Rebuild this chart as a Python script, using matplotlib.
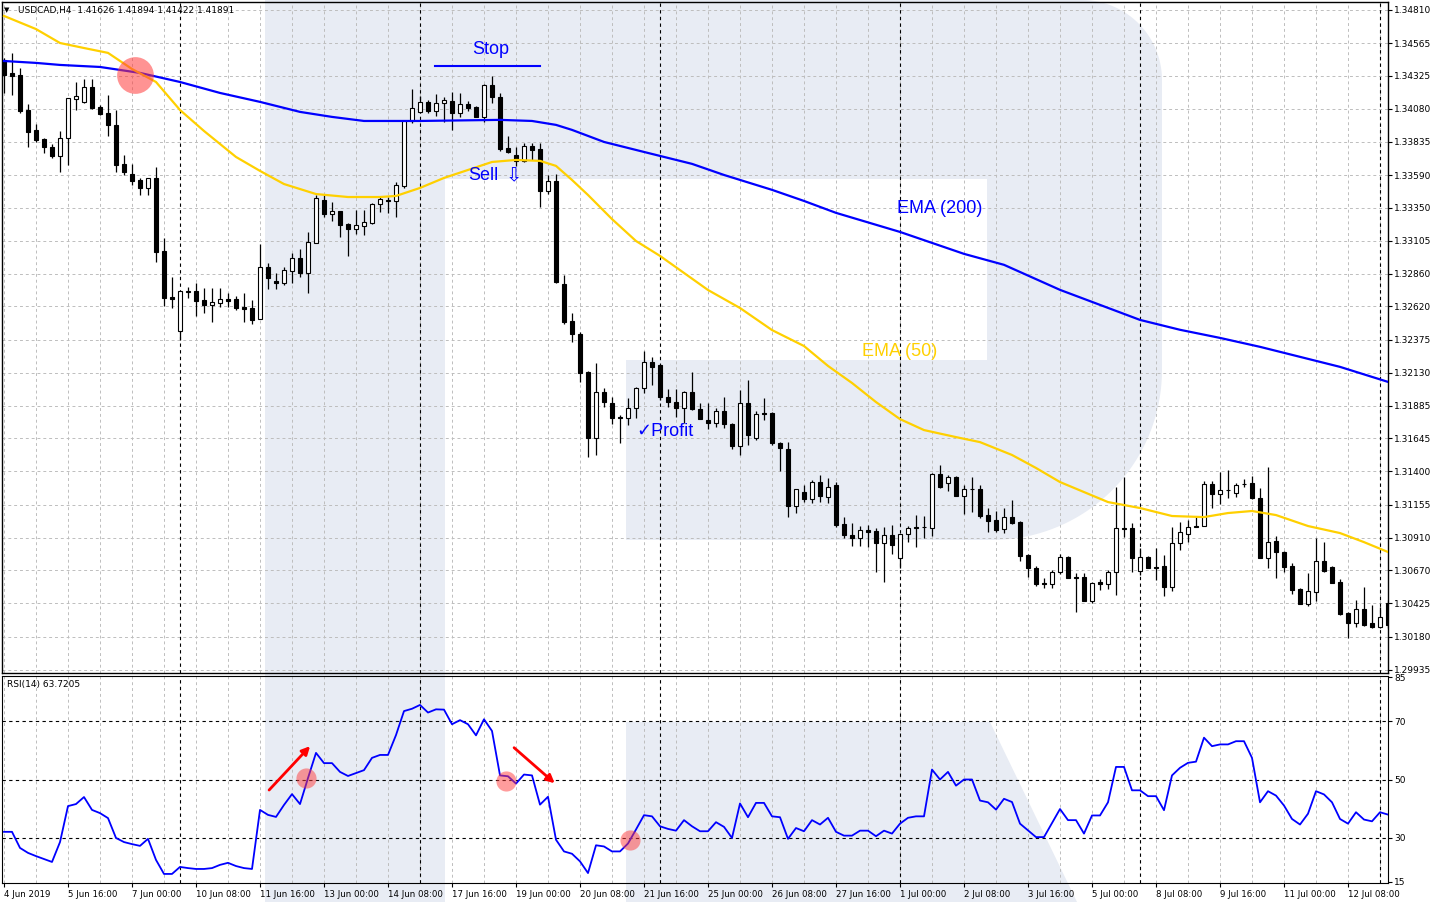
import numpy as np
import matplotlib.pyplot as plt
from matplotlib.patches import Polygon, Rectangle

# USDCAD H4 candles, bar 0 = 4 Jun 2019 08:00
opens = [1.34441, 1.34345, 1.34330, 1.34071, 1.33923, 1.33856, 1.33797, 1.33732, 1.33864, 1.34152,
         1.34130, 1.34241, 1.34093, 1.34049, 1.33960, 1.33672, 1.33598, 1.33554, 1.33495, 1.33569,
         1.33030, 1.32689, 1.32438, 1.32726, 1.32734, 1.32667, 1.32630, 1.32645, 1.32674, 1.32674,
         1.32615, 1.32608, 1.32526, 1.32911, 1.32808, 1.32793, 1.32882, 1.32978, 1.32867, 1.33088,
         1.33406, 1.33302, 1.33325, 1.33228, 1.33191, 1.33214, 1.33236, 1.33376, 1.33406, 1.33399,
         1.33510, 1.33990, 1.34056, 1.34130, 1.34064, 1.34123, 1.34138, 1.34049, 1.34115, 1.34093,
         1.34019, 1.34256, 1.34167, 1.33790, 1.33739, 1.33695, 1.33805, 1.33782, 1.33473, 1.33547,
         1.32785, 1.32512, 1.32415, 1.32135, 1.31647, 1.31987, 1.31906, 1.31802, 1.31795, 1.31869,
         1.32017, 1.32209, 1.32187, 1.31950, 1.31913, 1.31869, 1.31987, 1.31861, 1.31780, 1.31758,
         1.31847, 1.31750, 1.31588, 1.31906, 1.31647, 1.31832, 1.31832, 1.31610, 1.31565, 1.31145,
         1.31248, 1.31196, 1.31322, 1.31211, 1.31300, 1.31011, 1.30930, 1.30908, 1.30967, 1.30960,
         1.30871, 1.30930, 1.30761, 1.30937, 1.30989, 1.30989, 1.30982, 1.31381, 1.31315, 1.31359,
         1.31219, 1.31270, 1.31270, 1.31078, 1.31041, 1.30974, 1.31063, 1.31026, 1.30783, 1.30687,
         1.30576, 1.30568, 1.30657, 1.30768, 1.30620, 1.30620, 1.30443, 1.30583, 1.30568, 1.30657,
         1.30982, 1.30982, 1.30665, 1.30768, 1.30694, 1.30702, 1.30546, 1.30871, 1.30937, 1.30997,
         1.30997, 1.31307, 1.31233, 1.31263, 1.31241, 1.31307, 1.31315, 1.31204, 1.30761, 1.30886,
         1.30805, 1.30702, 1.30531, 1.30420, 1.30509, 1.30739, 1.30694, 1.30583, 1.30354, 1.30280,
         1.30383, 1.30280, 1.30250, 1.30428]
highs = [1.34456, 1.34493, 1.34382, 1.34115, 1.33967, 1.33864, 1.33819, 1.33916, 1.34160, 1.34278,
         1.34300, 1.34300, 1.34108, 1.34182, 1.34071, 1.33739, 1.33672, 1.33569, 1.33569, 1.33650,
         1.33125, 1.32837, 1.32734, 1.32763, 1.32793, 1.32756, 1.32756, 1.32756, 1.32719, 1.32697,
         1.32719, 1.32667, 1.33080, 1.32941, 1.32867, 1.32911, 1.33015, 1.33043, 1.33169, 1.33443,
         1.33443, 1.33391, 1.33325, 1.33236, 1.33332, 1.33332, 1.33384, 1.33428, 1.33428, 1.33539,
         1.33990, 1.34226, 1.34175, 1.34145, 1.34189, 1.34167, 1.34204, 1.34197, 1.34138, 1.34100,
         1.34263, 1.34323, 1.34197, 1.33879, 1.33797, 1.33827, 1.33827, 1.33827, 1.33591, 1.33598,
         1.32852, 1.32571, 1.32430, 1.32143, 1.32202, 1.32017, 1.31950, 1.31817, 1.31943, 1.32024,
         1.32291, 1.32246, 1.32194, 1.32009, 1.32009, 1.31995, 1.32135, 1.31906, 1.31906, 1.31869,
         1.31950, 1.31758, 1.32002, 1.32076, 1.31847, 1.31943, 1.31839, 1.31617, 1.31617, 1.31270,
         1.31300, 1.31337, 1.31374, 1.31352, 1.31322, 1.31063, 1.31019, 1.30997, 1.31004, 1.30982,
         1.30989, 1.31004, 1.30937, 1.30997, 1.31078, 1.31071, 1.31389, 1.31448, 1.31374, 1.31367,
         1.31300, 1.31359, 1.31300, 1.31130, 1.31108, 1.31130, 1.31189, 1.31034, 1.30790, 1.30702,
         1.30613, 1.30672, 1.30790, 1.30776, 1.30650, 1.30650, 1.30583, 1.30605, 1.30672, 1.31285,
         1.31359, 1.31019, 1.30834, 1.30776, 1.30834, 1.30783, 1.30989, 1.31026, 1.31041, 1.31063,
         1.31330, 1.31330, 1.31396, 1.31411, 1.31315, 1.31344, 1.31367, 1.31278, 1.31433, 1.30923,
         1.30813, 1.30724, 1.30539, 1.30650, 1.30908, 1.30878, 1.30702, 1.30605, 1.30361, 1.30450,
         1.30546, 1.30413, 1.30398, 1.30450]
lows = [1.34197, 1.34182, 1.34049, 1.33797, 1.33834, 1.33754, 1.33717, 1.33613, 1.33665, 1.34071,
        1.34123, 1.34078, 1.34034, 1.33879, 1.33613, 1.33591, 1.33517, 1.33443, 1.33443, 1.32948,
        1.32623, 1.32608, 1.32371, 1.32682, 1.32549, 1.32571, 1.32504, 1.32615, 1.32615, 1.32593,
        1.32504, 1.32489, 1.32526, 1.32748, 1.32748, 1.32778, 1.32793, 1.32837, 1.32719, 1.33088,
        1.33280, 1.33251, 1.33132, 1.32993, 1.33154, 1.33147, 1.33228, 1.33317, 1.33310, 1.33280,
        1.33495, 1.33975, 1.34049, 1.34049, 1.34027, 1.33982, 1.33923, 1.34019, 1.34064, 1.34019,
        1.33982, 1.34123, 1.33769, 1.33754, 1.33658, 1.33687, 1.33702, 1.33354, 1.33450, 1.32793,
        1.32489, 1.32356, 1.32061, 1.31507, 1.31522, 1.31876, 1.31750, 1.31610, 1.31743, 1.31795,
        1.31980, 1.32039, 1.31928, 1.31876, 1.31802, 1.31758, 1.31854, 1.31787, 1.31713, 1.31728,
        1.31721, 1.31565, 1.31522, 1.31595, 1.31632, 1.31780, 1.31595, 1.31404, 1.31063, 1.31093,
        1.31174, 1.31167, 1.31174, 1.31167, 1.30989, 1.30908, 1.30849, 1.30849, 1.30841, 1.30657,
        1.30583, 1.30790, 1.30687, 1.30878, 1.30841, 1.30908, 1.30923, 1.31278, 1.31256, 1.31219,
        1.31085, 1.31100, 1.31056, 1.30952, 1.30952, 1.30945, 1.31011, 1.30739, 1.30620, 1.30554,
        1.30539, 1.30539, 1.30642, 1.30613, 1.30361, 1.30443, 1.30428, 1.30524, 1.30531, 1.30487,
        1.30915, 1.30657, 1.30635, 1.30687, 1.30598, 1.30480, 1.30517, 1.30820, 1.30878, 1.30989,
        1.30997, 1.31130, 1.31159, 1.31204, 1.31211, 1.31285, 1.31196, 1.30761, 1.30687, 1.30613,
        1.30657, 1.30494, 1.30420, 1.30406, 1.30443, 1.30657, 1.30576, 1.30339, 1.30169, 1.30250,
        1.30258, 1.30243, 1.30243, 1.30243]
closes = [1.34330, 1.34323, 1.34064, 1.33908, 1.33849, 1.33797, 1.33732, 1.33864, 1.34160, 1.34175,
          1.34241, 1.34086, 1.34041, 1.33960, 1.33665, 1.33613, 1.33547, 1.33495, 1.33569, 1.33022,
          1.32682, 1.32674, 1.32734, 1.32734, 1.32660, 1.32630, 1.32652, 1.32674, 1.32660, 1.32608,
          1.32600, 1.32519, 1.32911, 1.32830, 1.32793, 1.32889, 1.32978, 1.32867, 1.33095, 1.33421,
          1.33302, 1.33325, 1.33221, 1.33191, 1.33221, 1.33243, 1.33376, 1.33413, 1.33399, 1.33517,
          1.33990, 1.34086, 1.34130, 1.34064, 1.34123, 1.34145, 1.34049, 1.34115, 1.34086, 1.34019,
          1.34256, 1.34167, 1.33782, 1.33761, 1.33695, 1.33805, 1.33776, 1.33473, 1.33547, 1.32800,
          1.32504, 1.32415, 1.32128, 1.31647, 1.31987, 1.31913, 1.31795, 1.31795, 1.31869, 1.32017,
          1.32209, 1.32172, 1.31950, 1.31913, 1.31869, 1.31987, 1.31861, 1.31787, 1.31758, 1.31847,
          1.31750, 1.31588, 1.31906, 1.31669, 1.31824, 1.31824, 1.31610, 1.31573, 1.31145, 1.31270,
          1.31196, 1.31322, 1.31219, 1.31285, 1.31004, 1.30930, 1.30908, 1.30967, 1.30952, 1.30871,
          1.30930, 1.30856, 1.30937, 1.30982, 1.30985, 1.30992, 1.31381, 1.31285, 1.31359, 1.31219,
          1.31270, 1.31267, 1.31071, 1.31034, 1.30967, 1.31063, 1.31019, 1.30776, 1.30687, 1.30568,
          1.30568, 1.30657, 1.30768, 1.30613, 1.30613, 1.30443, 1.30576, 1.30568, 1.30657, 1.30982,
          1.30978, 1.30761, 1.30768, 1.30687, 1.30687, 1.30546, 1.30871, 1.30952, 1.30989, 1.30989,
          1.31307, 1.31233, 1.31263, 1.31260, 1.31300, 1.31304, 1.31204, 1.30761, 1.30878, 1.30805,
          1.30694, 1.30524, 1.30420, 1.30517, 1.30739, 1.30665, 1.30576, 1.30346, 1.30280, 1.30383,
          1.30265, 1.30250, 1.30324, 1.30265]

# moving averages, read at a subset of bars
ema50_idx = [0, 4, 7, 10, 13, 16, 19, 22, 25, 29, 32, 35, 39, 43, 47, 49, 52, 55, 58, 61,
             64, 67, 69, 71, 73, 76, 79, 82, 85, 88, 92, 96, 100, 103, 106, 109, 112, 115, 119, 122,
             126, 129, 132, 135, 138, 142, 146, 150, 153, 156, 159, 163, 167, 170, 173]
ema50 = [1.34766, 1.34669, 1.34566, 1.34529, 1.34493, 1.34374, 1.34278, 1.34071, 1.33916, 1.33724,
         1.33621, 1.33524, 1.33450, 1.33428, 1.33428, 1.33436, 1.33495, 1.33569, 1.33628, 1.33687,
         1.33702, 1.33695, 1.33658, 1.33554, 1.33443, 1.33265, 1.33103, 1.32993, 1.32867, 1.32741,
         1.32608, 1.32445, 1.32327, 1.32180, 1.32054, 1.31913, 1.31787, 1.31706, 1.31654, 1.31617,
         1.31522, 1.31426, 1.31322, 1.31248, 1.31174, 1.31130, 1.31071, 1.31063, 1.31093, 1.31108,
         1.31078, 1.30997, 1.30945, 1.30878, 1.30805]
ema200_idx = [0, 4, 7, 12, 17, 22, 27, 32, 37, 41, 45, 52, 62, 66, 69, 71, 75, 80, 86, 90,
              96, 100, 104, 112, 120, 125, 132, 137, 142, 147, 152, 157, 162, 167, 173]
ema200 = [1.34433, 1.34419, 1.34404, 1.34389, 1.34345, 1.34278, 1.34197, 1.34131, 1.34057, 1.34020,
          1.33990, 1.33990, 1.33998, 1.33990, 1.33961, 1.33924, 1.33835, 1.33761, 1.33673, 1.33591,
          1.33481, 1.33399, 1.33311, 1.33170, 1.33008, 1.32927, 1.32742, 1.32631, 1.32520, 1.32447,
          1.32387, 1.32321, 1.32247, 1.32173, 1.32062]

rsi = [32.1, 32.1, 26.6, 24.9, 23.8, 22.8, 21.8, 28.6, 40.9, 41.6,
       44.0, 39.6, 38.5, 36.8, 30.0, 28.6, 27.9, 27.3, 29.7, 22.5,
       17.7, 17.7, 20.1, 19.7, 19.4, 19.4, 19.7, 20.8, 21.5, 20.4,
       19.7, 19.4, 39.6, 37.9, 37.2, 41.3, 45.0, 41.6, 50.5, 59.1,
       55.6, 55.6, 52.6, 51.2, 52.2, 53.2, 57.4, 58.4, 58.4, 65.2,
       73.4, 74.2, 75.5, 72.9, 74.0, 73.9, 68.9, 70.3, 68.9, 65.1,
       70.6, 66.6, 51.4, 51.1, 48.6, 51.7, 51.4, 41.4, 44.1, 29.4,
       25.4, 24.6, 22.0, 18.0, 27.5, 27.1, 25.4, 25.4, 28.1, 32.9,
       37.8, 37.4, 34.0, 33.1, 32.5, 36.1, 34.0, 32.3, 32.3, 35.4,
       33.8, 30.0, 41.8, 37.1, 42.0, 42.0, 37.4, 37.1, 29.7, 33.4,
       32.3, 36.1, 34.6, 36.9, 32.1, 30.8, 30.8, 32.5, 32.5, 30.6,
       32.5, 31.5, 34.9, 36.9, 37.4, 37.4, 53.4, 50.0, 52.6, 47.9,
       50.0, 50.0, 42.8, 42.2, 39.7, 43.4, 42.3, 34.9, 32.6, 30.3,
       30.3, 35.1, 39.9, 36.1, 36.1, 31.5, 37.7, 37.7, 42.2, 54.3,
       54.3, 46.3, 46.3, 44.3, 44.3, 39.5, 51.4, 54.0, 55.7, 56.1,
       64.3, 61.4, 62.0, 62.0, 63.1, 63.1, 57.4, 42.2, 46.0, 44.5,
       41.1, 36.5, 34.6, 38.3, 46.0, 44.9, 42.2, 36.5, 34.9, 38.8,
       36.3, 35.7, 38.8, 38.0]

price_ticks = [1.34810, 1.34565, 1.34325, 1.34080, 1.33835, 1.33590, 1.33350, 1.33105, 1.32860,
               1.32620, 1.32375, 1.32130, 1.31885, 1.31645, 1.31400, 1.31155, 1.30910, 1.30670,
               1.30425, 1.30180, 1.29935]
rsi_ticks = [85, 70, 50, 30, 15]
rsi_levels = [70, 50, 30]
date_labels = ['4 Jun 2019', '5 Jun 16:00', '7 Jun 00:00', '10 Jun 08:00', '11 Jun 16:00',
               '13 Jun 00:00', '14 Jun 08:00', '17 Jun 16:00', '19 Jun 00:00', '20 Jun 08:00',
               '21 Jun 16:00', '25 Jun 00:00', '26 Jun 08:00', '27 Jun 16:00', '1 Jul 00:00',
               '2 Jul 08:00', '3 Jul 16:00', '5 Jul 00:00', '8 Jul 08:00', '9 Jul 16:00',
               '11 Jul 00:00', '12 Jul 08:00']
week_starts = [22, 52, 82, 112, 142, 172]

W, H = 1433, 902
fig = plt.figure(figsize=(W / 100, H / 100), dpi=100)

# background logo watermark (pixel space)
bg = fig.add_axes([0, 0, 1, 1], zorder=0)
bg.set_xlim(0, W)
bg.set_ylim(H, 0)
bg.axis('off')
wm = '#E8ECF4'
bg.add_patch(Rectangle((265, 0), 180, H, color=wm, lw=0))
t1 = np.linspace(-np.pi / 2, 0, 30)
t2 = np.linspace(0, np.pi / 2, 40)
bowl = [(445, 0)]
bowl += list(zip(1082 + 80 * np.cos(t1), 80 + 80 * np.sin(t1)))
bowl += list(zip(992 + 170 * np.cos(t2), 370 + 170 * np.sin(t2)))
bowl += [(626, 540), (626, 360), (987, 360), (987, 179), (445, 179)]
bg.add_patch(Polygon(bowl, closed=True, color=wm, lw=0))
bg.add_patch(Polygon([(626, 722), (990, 722), (1077, H), (626, H)], closed=True, color=wm, lw=0))

# price panel
ax = fig.add_axes([2 / W, 1 - 673 / H, 1386 / W, 671 / H], zorder=1)
ax.patch.set_alpha(0)
x = np.arange(len(opens))
o = np.array(opens); c = np.array(closes)
ax.vlines(x, lows, highs, color='black', lw=0.9, zorder=3)
body = np.maximum(np.abs(c - o), 0.00002)
cols = np.where(c >= o, 'white', 'black')
ax.bar(x, body, bottom=np.minimum(o, c), width=0.62, color=cols, edgecolor='black',
       linewidth=0.8, zorder=4)
ax.plot(ema200_idx, ema200, color='#0000FF', lw=1.6, zorder=5)
ax.plot(ema50_idx, ema50, color='#FFD000', lw=1.6, zorder=5)

ax.set_xlim(-0.25, 173.0)
ax.set_ylim(1.29911, 1.34869)
ax.set_xticks(np.arange(0, 174, 4))
ax.set_xticklabels([])
ax.tick_params(axis='x', length=0)
ax.yaxis.tick_right()
ax.set_yticks(price_ticks)
ax.set_yticklabels([f'{v:.5f}' for v in price_ticks], fontsize=6.5)
ax.tick_params(axis='y', length=3, width=0.8, pad=1.5)
ax.grid(True, color='#BDBDBD', linestyle=(0, (3, 3)), lw=0.7, zorder=1)
for w in week_starts:
    ax.axvline(w, color='black', linestyle=(0, (3, 3)), lw=0.8, zorder=2)
for s in ax.spines.values():
    s.set_linewidth(1.0)

# annotations on the price panel
ax.scatter([16.4], [1.34330], s=700, color='#FF3B3B', alpha=0.55, lw=0, zorder=6)
ax.text(60.9, 1.34515, 'Stop', color='#0000FF', fontsize=13, ha='center', va='center',
        family='Liberation Sans', zorder=7)
ax.plot([53.9, 67.0], [1.34397, 1.34397], color='#0000FF', lw=1.5, zorder=7)
ax.text(59.9, 1.33584, 'Sell', color='#0000FF', fontsize=13, ha='center', va='center',
        family='Liberation Sans', zorder=7)
ax.text(63.75, 1.33584, '⇩', color='#0000FF', fontsize=14, ha='center', va='center',
        family='DejaVu Sans', zorder=7)
ax.text(82.6, 1.31699, '✓Profit', color='#0000FF', fontsize=13, ha='center', va='center',
        family=['Liberation Sans', 'DejaVu Sans'], zorder=7)
ax.text(117, 1.33340, 'EMA (200)', color='#0000FF', fontsize=13, ha='center', va='center',
        family='Liberation Sans', zorder=7)
ax.text(111.9, 1.32290, 'EMA (50)', color='#FFD000', fontsize=13, ha='center', va='center',
        family='Liberation Sans', zorder=7)

# RSI panel
ra = fig.add_axes([2 / W, 1 - 883 / H, 1386 / W, 207 / H], zorder=1)
ra.patch.set_alpha(0)
ra.plot(x, rsi, color='#0000FF', lw=1.3, zorder=4)
ra.set_xlim(-0.25, 173.0)
ra.set_ylim(14.6, 85.4)
ra.yaxis.tick_right()
ra.set_yticks(rsi_ticks)
ra.set_yticklabels([str(v) for v in rsi_ticks], fontsize=6.5)
ra.tick_params(axis='y', length=3, width=0.8, pad=1.5)
ra.set_xticks(np.arange(0, 174, 4), minor=True)
ra.set_xticks(np.arange(0, 8 * len(date_labels), 8))
ra.set_xticklabels(date_labels, fontsize=6.2, ha='left')
ra.tick_params(axis='x', which='major', length=3, width=0.8, pad=2)
ra.tick_params(axis='x', which='minor', length=0)
ra.grid(True, axis='x', which='both', color='#BDBDBD', linestyle=(0, (3, 3)), lw=0.7, zorder=1)
for lv in rsi_levels:
    ra.axhline(lv, color='black', linestyle=(0, (3, 3)), lw=0.8, zorder=2)
for w in week_starts:
    ra.axvline(w, color='black', linestyle=(0, (3, 3)), lw=0.8, zorder=2)

ra.scatter([37.75, 62.75, 78.25], [50.5, 49.5, 29.3], s=210, color='#FF3B3B', alpha=0.5,
           lw=0, zorder=6)
ra.annotate('', xy=(38.5, 62.1), xytext=(32.9, 45.7),
            arrowprops=dict(arrowstyle='-|>', color='#FF0000', lw=2, mutation_scale=12), zorder=7)
ra.annotate('', xy=(69.1, 48.1), xytext=(63.5, 61.5),
            arrowprops=dict(arrowstyle='-|>', color='#FF0000', lw=2, mutation_scale=12), zorder=7)

fig.text(4 / W, 1 - 10 / H, '▼', fontsize=5, va='center')
fig.text(18 / W, 1 - 10 / H, 'USDCAD,H4  1.41626 1.41894 1.41422 1.41891', fontsize=6.5, va='center')
fig.text(7 / W, 1 - 684 / H, 'RSI(14) 63.7205', fontsize=6.5, va='center')

fig.savefig('out.png', dpi=100)
